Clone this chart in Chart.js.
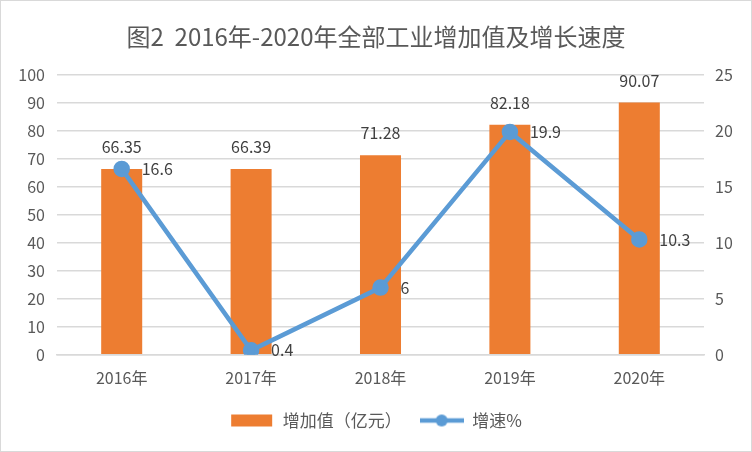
<!DOCTYPE html>
<html>
<head>
<meta charset="utf-8">
<script src="https://cdn.jsdelivr.net/npm/chart.js@4.4.0/dist/chart.umd.min.js"></script>
<style>
    html, body { margin: 0; padding: 0; background: #fff; }
    #wrap { width: 750px; height: 450px; border: 1px solid #d9d9d9; position: relative; }
</style>
</head>
<body>
<div id="wrap"><canvas id="chart" width="750" height="450"></canvas></div>
<script>
// 图2 数据
const years = ['2016年', '2017年', '2018年', '2019年', '2020年'];
const addedValue = [66.35, 66.39, 71.28, 82.18, 90.07];
const growthRate = [16.6, 0.4, 6, 19.9, 10.3];

const FONT = '"Noto Sans CJK SC", "Noto Sans", sans-serif';
const TEXT = '#595959';
const ORANGE = '#ED7D31';
const BLUE = '#5B9BD5';

// 图例小样：柱为色块，折线为带圆点的线段
function legendSwatch(kind) {
    const c = document.createElement('canvas');
    c.width = 44;
    c.height = 14;
    const g = c.getContext('2d');
    if (kind === 'bar') {
        g.fillStyle = ORANGE;
        g.fillRect(1, 1, 41, 12);
    } else {
        g.strokeStyle = BLUE;
        g.lineWidth = 4.5;
        g.beginPath();
        g.moveTo(0, 7);
        g.lineTo(44, 7);
        g.stroke();
        g.fillStyle = BLUE;
        g.beginPath();
        g.arc(22, 7, 6, 0, Math.PI * 2);
        g.fill();
    }
    return c;
}

// 在柱顶和折线点旁写数值
const valueLabels = {
    id: 'valueLabels',
    afterDatasetsDraw(chart) {
        const ctx = chart.ctx;
        ctx.save();
        ctx.font = '16px ' + FONT;
        ctx.fillStyle = '#404040';
        ctx.textBaseline = 'middle';

        chart.getDatasetMeta(0).data.forEach((bar, i) => {
            ctx.textAlign = 'center';
            ctx.fillText(addedValue[i].toString(), bar.x, bar.y - 22);
        });
        chart.getDatasetMeta(1).data.forEach((pt, i) => {
            ctx.textAlign = 'left';
            ctx.fillText(growthRate[i].toString(), pt.x + 20, pt.y);
        });
        ctx.restore();
    }
};

const swatches = [legendSwatch('bar'), legendSwatch('line')];

new Chart(document.getElementById('chart'), {
    data: {
        labels: years,
        datasets: [
            {
                type: 'bar',
                label: '增加值（亿元）',
                data: addedValue,
                backgroundColor: ORANGE,
                yAxisID: 'y',
                barPercentage: 0.317,
                categoryPercentage: 1,
                order: 2
            },
            {
                type: 'line',
                label: '增速%',
                data: growthRate,
                borderColor: BLUE,
                backgroundColor: BLUE,
                borderWidth: 4.5,
                pointRadius: 6,
                pointHoverRadius: 6,
                tension: 0,
                yAxisID: 'y1',
                order: 1
            }
        ]
    },
    options: {
        responsive: false,
        animation: false,
        layout: { padding: { top: 0, left: 0, right: 0, bottom: 12 } },
        plugins: {
            title: {
                display: true,
                text: '图2  2016年-2020年全部工业增加值及增长速度',
                color: TEXT,
                font: { family: FONT, size: 24, weight: 'normal' },
                padding: { top: 21, bottom: 24 }
            },
            legend: {
                position: 'bottom',
                labels: {
                    color: TEXT,
                    font: { family: FONT, size: 17 },
                    usePointStyle: true,
                    pointStyleWidth: 44,
                    padding: 18,
                    generateLabels(chart) {
                        return chart.data.datasets.map((ds, i) => ({
                            text: ds.label,
                            pointStyle: swatches[i],
                            fontColor: TEXT,
                            lineWidth: 0,
                            datasetIndex: i
                        }));
                    }
                }
            },
            tooltip: { enabled: false }
        },
        scales: {
            x: {
                grid: { display: false },
                border: { color: '#d9d9d9', width: 1.5 },
                ticks: { color: TEXT, font: { family: FONT, size: 16 }, padding: 6 }
            },
            y: {
                position: 'left',
                min: 0,
                max: 100,
                ticks: { stepSize: 10, color: TEXT, font: { family: FONT, size: 16 }, padding: 12 },
                grid: { color: '#d9d9d9', lineWidth: 1.5, drawTicks: false },
                border: { display: false },
                afterFit(scale) { scale.width = 56; }
            },
            y1: {
                position: 'right',
                min: 0,
                max: 25,
                ticks: { stepSize: 5, color: TEXT, font: { family: FONT, size: 16 }, padding: 11 },
                grid: { display: false, drawTicks: false },
                border: { display: false },
                afterFit(scale) { scale.width = 47; }
            }
        }
    },
    plugins: [valueLabels]
});
</script>
</body>
</html>
